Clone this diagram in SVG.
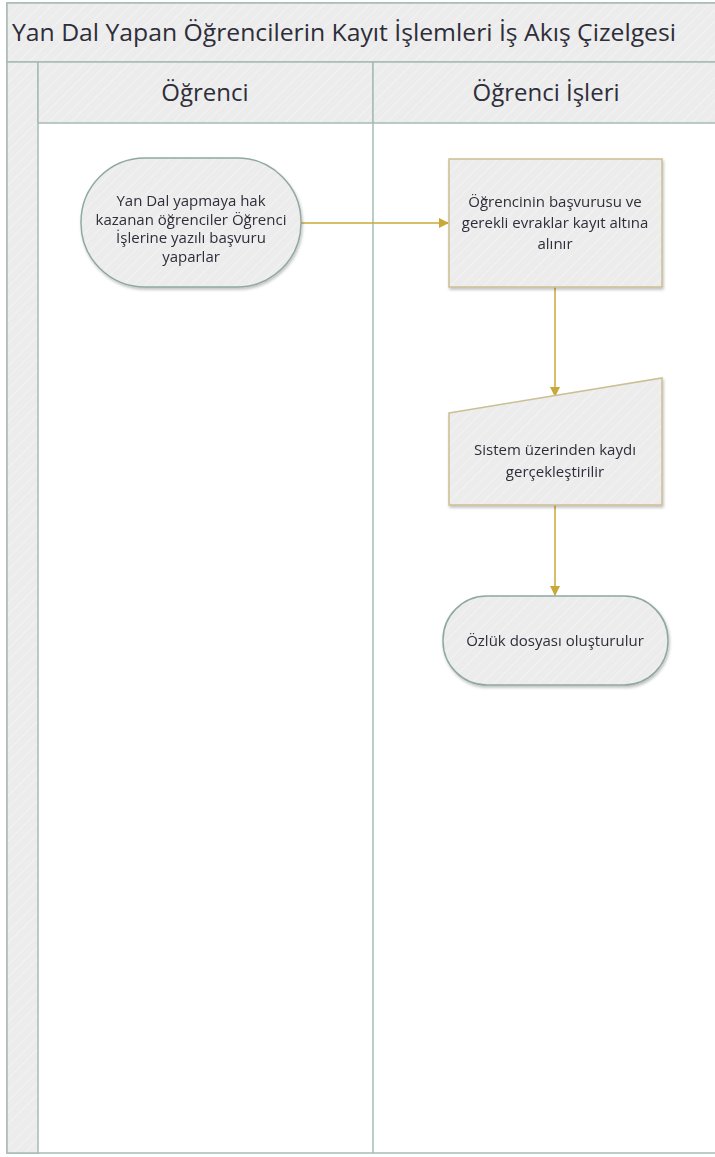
<svg xmlns="http://www.w3.org/2000/svg" width="715" height="1157" viewBox="0 0 715 1157">
<defs>
<pattern id="hatch" width="8" height="8" patternUnits="userSpaceOnUse" patternTransform="rotate(45)">
<rect width="8" height="8" fill="#ececec"/>
<line x1="0" y1="0" x2="0" y2="8" stroke="#f4f4f4" stroke-width="1.5"/>
</pattern>
<filter id="sh" x="-10%" y="-10%" width="125%" height="125%">
<feGaussianBlur in="SourceAlpha" stdDeviation="1.5"/>
<feOffset dx="1" dy="2" result="b"/>
<feComponentTransfer><feFuncA type="linear" slope="0.25"/></feComponentTransfer>
<feMerge><feMergeNode/><feMergeNode in="SourceGraphic"/></feMerge>
</filter>
<marker id="ah" markerWidth="10" markerHeight="10" refX="9" refY="5" orient="auto" markerUnits="userSpaceOnUse">
<path d="M0,0 L10,5 L0,10 Z" fill="#c9a83a"/>
</marker>
</defs>
<style>
.frame{stroke:#a6bbb3;stroke-width:1.5}
.t{font-family:"Open Sans","Noto Sans","DejaVu Sans",sans-serif;fill:#2e2e3a;text-anchor:middle}
.head{font-size:24px}
.lbl{font-size:15px}
.term{fill:url(#hatch);stroke:#8fa9a1;stroke-width:1.5}
.proc{fill:url(#hatch);stroke:#cbbf93;stroke-width:1.5}
.conn{stroke:#c9a83a;stroke-width:1.5;fill:none}
</style>
<rect width="715" height="1157" fill="#ffffff"/>
<g id="pool">
<rect x="7" y="3" width="712" height="1150" fill="#ffffff" class="frame"/>
<rect x="7" y="3" width="712" height="59" fill="url(#hatch)" class="frame"/>
<rect x="7" y="62" width="31" height="1091" fill="url(#hatch)" class="frame"/>
<rect x="38" y="62" width="335" height="61" fill="url(#hatch)" class="frame"/>
<rect x="373" y="62" width="346" height="61" fill="url(#hatch)" class="frame"/>
<line x1="373" y1="123" x2="373" y2="1153" class="frame"/>
<text x="12" y="41" class="t" style="text-anchor:start;font-size:24px" textLength="664" lengthAdjust="spacingAndGlyphs">Yan Dal Yapan Öğrencilerin Kayıt İşlemleri İş Akış Çizelgesi</text>
</g>
<g id="lane-ogrenci">
<text x="205" y="101" class="t head">Öğrenci</text>
</g>
<g id="lane-ogrenci-isleri">
<text x="546" y="101" class="t head">Öğrenci İşleri</text>
</g>
<g id="connectors">
<line x1="301" y1="223" x2="448" y2="223" class="conn" marker-end="url(#ah)"/>
<line x1="555" y1="287" x2="555" y2="396" class="conn" marker-end="url(#ah)"/>
<line x1="555" y1="505" x2="555" y2="595" class="conn" marker-end="url(#ah)"/>
</g>
<g id="n1" filter="url(#sh)">
<rect x="81" y="158" width="220" height="129" rx="64" ry="64" class="term"/>
<text class="t lbl"><tspan x="191" y="206">Yan Dal yapmaya hak</tspan><tspan x="191" y="224.5">kazanan öğrenciler Öğrenci</tspan><tspan x="191" y="243">İşlerine yazılı başvuru</tspan><tspan x="191" y="261.5">yaparlar</tspan></text>
</g>
<g id="n2" filter="url(#sh)">
<rect x="449" y="159" width="213" height="128" class="proc"/>
<text class="t lbl"><tspan x="555" y="207">Öğrencinin başvurusu ve</tspan><tspan x="555" y="228">gerekli evraklar kayıt altına</tspan><tspan x="555" y="249">alınır</tspan></text>
</g>
<g id="n3" filter="url(#sh)">
<path d="M449,413 L662,378 L662,505 L449,505 Z" class="proc"/>
<text class="t lbl"><tspan x="555" y="455">Sistem üzerinden kaydı</tspan><tspan x="555" y="477">gerçekleştirilir</tspan></text>
</g>
<g id="n4" filter="url(#sh)">
<rect x="443" y="596" width="225" height="89" rx="44" ry="44" class="term"/>
<text class="t lbl"><tspan x="555" y="646">Özlük dosyası oluşturulur</tspan></text>
</g>
</svg>
